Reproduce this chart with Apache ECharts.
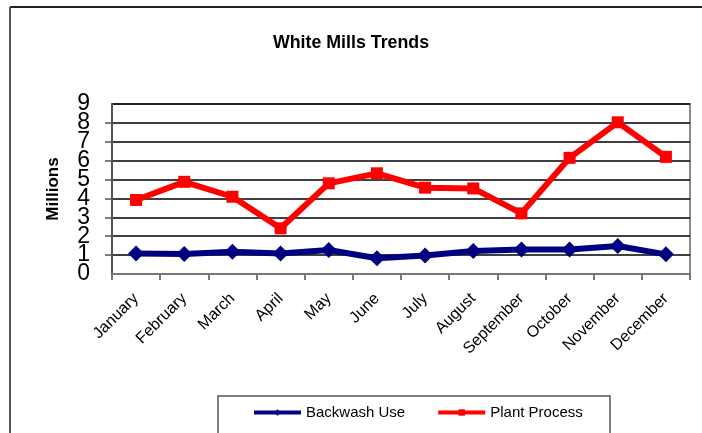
<!DOCTYPE html>
<html>
<head>
<meta charset="utf-8">
<script src="https://cdn.jsdelivr.net/npm/echarts@6/dist/echarts.min.js"></script>
<style>
  html, body { margin: 0; padding: 0; background: #fff; }
  #chart { width: 702px; height: 433px; }
</style>
</head>
<body>
<div id="chart"></div>
<script>
// Monthly water use, in millions
const months = ['January', 'February', 'March', 'April', 'May', 'June',
  'July', 'August', 'September', 'October', 'November', 'December'];
const backwashUse = [1.09, 1.06, 1.18, 1.09, 1.27, 0.83, 0.98, 1.22, 1.3, 1.3, 1.48, 1.04];
const plantProcess = [3.92, 4.88, 4.09, 2.42, 4.8, 5.33, 4.57, 4.53, 3.21, 6.15, 8.03, 6.2];
const yTicks = [0, 1, 2, 3, 4, 5, 6, 7, 8, 9];
const yMin = yTicks[0];
const yMax = yTicks[yTicks.length - 1];

const FONT = '"Liberation Sans", Arial, sans-serif';
const chart = echarts.init(document.getElementById('chart'), null, { renderer: 'canvas' });

const yLabelStyle = { margin: 22, fontFamily: FONT, fontSize: 23, color: '#000' };

chart.setOption({
  animation: false,
  backgroundColor: '#fff',
  title: {
    text: 'White Mills Trends',
    left: 'center',
    top: 29,
    textStyle: { fontFamily: FONT, fontSize: 17.8, fontWeight: 'bold', color: '#000' }
  },
  grid: {
    left: 112, right: 12, top: 104, bottom: 159,
    show: true, borderColor: '#8a8a8a', borderWidth: 2, backgroundColor: '#fff'
  },
  legend: {
    left: 252, top: 405, padding: 0,
    itemWidth: 47, itemHeight: 8, itemGap: 31,
    lineStyle: { width: 4 },
    textStyle: { fontFamily: FONT, fontSize: 15, color: '#000' },
    data: ['Backwash Use', 'Plant Process']
  },
  xAxis: {
    type: 'category',
    data: months,
    boundaryGap: true,
    axisLine: { lineStyle: { color: '#777', width: 2 } },
    axisTick: { show: true, length: 6, lineStyle: { color: '#777', width: 2 } },
    axisLabel: {
      rotate: 45, interval: 0, margin: 22,
      fontFamily: FONT, fontSize: 16, color: '#000'
    },
    splitLine: { show: false }
  },
  yAxis: [
    {
      // main value axis: gridlines, ticks and the inner labels 1..8
      type: 'value',
      position: 'left',
      min: yMin, max: yMax, interval: 1,
      name: 'Millions',
      nameLocation: 'middle',
      nameGap: 50,
      nameTextStyle: { fontFamily: FONT, fontSize: 17, fontWeight: 'bold', color: '#000' },
      axisLine: { show: true, lineStyle: { color: '#555', width: 2 } },
      axisTick: { show: true, inside: false, length: 7, lineStyle: { color: '#555', width: 1.5 } },
      axisLabel: Object.assign({}, yLabelStyle, {
        showMinLabel: false, showMaxLabel: false,
        formatter: v => (v > yMin && v < yMax ? String(v) : '')
      }),
      splitLine: { show: true, lineStyle: { color: '#000', width: 1.5 } }
    },
    {
      // companion axis on the same edge carrying the end labels 0 and 9
      type: 'value',
      position: 'left',
      offset: 0,
      min: yMin, max: yMax, interval: 1,
      axisLine: { show: false },
      axisTick: { show: false },
      splitLine: { show: false },
      axisLabel: Object.assign({}, yLabelStyle, {
        showMinLabel: true, showMaxLabel: true,
        formatter: v => (v === yMin || v === yMax ? String(v) : '')
      })
    }
  ],
  series: [
    {
      name: 'Backwash Use',
      type: 'line',
      yAxisIndex: 0,
      data: backwashUse,
      symbol: 'diamond',
      symbolSize: 16,
      color: '#000080',
      lineStyle: { color: '#000080', width: 6 },
      itemStyle: { color: '#000080' },
      z: 3
    },
    {
      name: 'Plant Process',
      type: 'line',
      yAxisIndex: 0,
      data: plantProcess,
      symbol: 'rect',
      symbolSize: 12,
      color: '#ff0000',
      lineStyle: { color: '#ff0000', width: 6 },
      itemStyle: { color: '#ff0000' },
      z: 2
    }
  ],
  graphic: [
    // outer chart frame (top and left edges)
    { type: 'line', shape: { x1: 10, y1: 7, x2: 702, y2: 7 }, style: { stroke: '#222', lineWidth: 2 }, silent: true },
    { type: 'line', shape: { x1: 10, y1: 7, x2: 10, y2: 433 }, style: { stroke: '#555', lineWidth: 2 }, silent: true },
    // legend frame
    { type: 'rect', shape: { x: 218, y: 396, width: 392, height: 60 },
      style: { fill: 'none', stroke: '#555', lineWidth: 1.5 }, silent: true, z: -1 }
  ]
});
</script>
</body>
</html>
